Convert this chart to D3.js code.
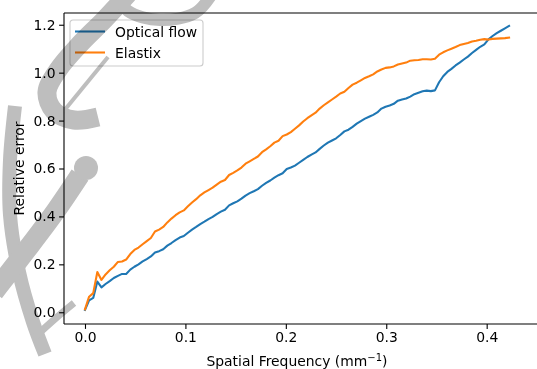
<!DOCTYPE html>
<html>
<head>
<meta charset="utf-8">
<script src="https://cdn.jsdelivr.net/npm/d3@7"></script>
<style>
  body { margin: 0; background: #fff; }
  svg { display: block; font-family: "DejaVu Sans", sans-serif; }
</style>
</head>
<body>
<div id="chart"></div>
<script>
// spatial frequency (mm^-1)
const freq = [0, .0041, .0082, .0123, .0164, .0205, .0246, .0287, .0328, .0369, .041, .0451, .0492, .0533, .0574, .0615, .0656, .0697, .0738, .0779,
  .082, .0861, .0902, .0943, .0984, .1025, .1066, .1107, .1148, .1189, .123, .1271, .1312, .1353, .1394, .1435, .1476, .1517, .1558, .1599,
  .164, .1681, .1722, .1763, .1804, .1845, .1886, .1927, .1968, .2009, .205, .2091, .2132, .2173, .2214, .2255, .2296, .2337, .2378, .2419,
  .246, .2501, .2542, .2583, .2624, .2665, .2706, .2747, .2788, .2829, .287, .2911, .2952, .2993, .3034, .3075, .3116, .3157, .3198, .3239,
  .328, .3321, .3362, .3403, .3444, .3485, .3526, .3567, .3608, .3649, .369, .3731, .3772, .3813, .3854, .3895, .3936, .3977, .4018, .4059,
  .41, .4141, .4182, .4223];

const opticalFlow = [0.010, 0.050, 0.060, 0.128, 0.104, 0.118, 0.130, 0.143, 0.152, 0.160, 0.160, 0.178, 0.190, 0.200, 0.212, 0.222, 0.233, 0.249, 0.255, 0.263,
  0.278, 0.289, 0.301, 0.312, 0.318, 0.332, 0.345, 0.356, 0.368, 0.378, 0.389, 0.398, 0.410, 0.420, 0.428, 0.446, 0.455, 0.463, 0.474, 0.487,
  0.497, 0.505, 0.514, 0.528, 0.540, 0.550, 0.562, 0.572, 0.580, 0.598, 0.604, 0.612, 0.624, 0.636, 0.648, 0.658, 0.667, 0.682, 0.696, 0.708,
  0.717, 0.726, 0.740, 0.755, 0.762, 0.774, 0.787, 0.798, 0.808, 0.816, 0.824, 0.834, 0.850, 0.858, 0.863, 0.870, 0.883, 0.888, 0.892, 0.900,
  0.910, 0.916, 0.922, 0.925, 0.923, 0.926, 0.960, 0.985, 1.003, 1.016, 1.030, 1.042, 1.055, 1.067, 1.082, 1.095, 1.108, 1.118, 1.139, 1.153,
  1.165, 1.175, 1.185, 1.195];

const elastix = [0.012, 0.065, 0.080, 0.168, 0.135, 0.158, 0.175, 0.190, 0.210, 0.212, 0.220, 0.243, 0.260, 0.270, 0.284, 0.297, 0.310, 0.337, 0.345, 0.356,
  0.375, 0.391, 0.405, 0.417, 0.425, 0.442, 0.458, 0.472, 0.488, 0.500, 0.510, 0.520, 0.533, 0.545, 0.552, 0.573, 0.582, 0.592, 0.604, 0.620,
  0.630, 0.640, 0.650, 0.668, 0.680, 0.693, 0.708, 0.716, 0.735, 0.742, 0.752, 0.766, 0.780, 0.796, 0.810, 0.822, 0.833, 0.850, 0.864, 0.876,
  0.888, 0.900, 0.913, 0.920, 0.936, 0.950, 0.958, 0.968, 0.978, 0.985, 0.993, 1.005, 1.013, 1.020, 1.022, 1.026, 1.034, 1.038, 1.042, 1.050,
  1.052, 1.053, 1.056, 1.056, 1.055, 1.058, 1.075, 1.085, 1.093, 1.100, 1.107, 1.115, 1.120, 1.124, 1.130, 1.133, 1.137, 1.140, 1.138, 1.141,
  1.142, 1.143, 1.144, 1.146];

const seriesNames = ["Optical flow", "Elastix"];
const seriesColors = ["#1f77b4", "#ff7f0e"];
const xTicks = [0.0, 0.1, 0.2, 0.3, 0.4];
const yTicks = [0.0, 0.2, 0.4, 0.6, 0.8, 1.0, 1.2];

const W = 537, H = 369;
const m = {l: 64, t: 13, r: 540, b: 324};
const fs = 13.9;

const svg = d3.select("#chart").append("svg").attr("width", W).attr("height", H);
svg.append("rect").attr("width", W).attr("height", H).attr("fill", "#fff");

const x = d3.scaleLinear().domain([-0.0209, 0.4531]).range([m.l, m.r]);
const y = d3.scaleLinear().domain([-0.049, 1.249]).range([m.b, m.t]);

// lines
const series = [opticalFlow, elastix];
const line = d3.line().x((d, i) => x(freq[i])).y(d => y(d));
series.forEach(function(s, k) {
  svg.append("path").datum(s)
    .attr("d", line)
    .attr("fill", "none")
    .attr("stroke", seriesColors[k])
    .attr("stroke-width", 2.08)
    .attr("stroke-linejoin", "round")
    .attr("stroke-linecap", "square");
});

// axes
const xAxis = svg.append("g").attr("transform", "translate(0," + m.b + ")")
  .call(d3.axisBottom(x).tickValues(xTicks).tickFormat(d3.format(".1f")).tickSizeOuter(0).tickSize(4.9).tickPadding(3.5));
const yAxis = svg.append("g").attr("transform", "translate(" + m.l + ",0)")
  .call(d3.axisLeft(y).tickValues(yTicks).tickFormat(d3.format(".1f")).tickSizeOuter(0).tickSize(4.9).tickPadding(3.5));
[xAxis, yAxis].forEach(function(a) {
  a.select(".domain").remove();
  a.selectAll(".tick line").attr("stroke", "#000").attr("stroke-width", 1.1);
  a.selectAll(".tick text").attr("fill", "#000").style("font-size", fs + "px").style("font-family", "DejaVu Sans");
});

// spines
const spine = svg.append("g").attr("stroke", "#000").attr("stroke-width", 1.1).attr("fill", "none");
spine.append("line").attr("x1", m.l).attr("x2", m.l).attr("y1", m.t).attr("y2", m.b);
spine.append("line").attr("x1", m.l).attr("x2", W).attr("y1", m.b).attr("y2", m.b);
spine.append("line").attr("x1", m.l).attr("x2", W).attr("y1", m.t).attr("y2", m.t);

// axis labels
const xl = svg.append("text").attr("x", 297).attr("y", 366).attr("text-anchor", "middle")
  .style("font-size", fs + "px").attr("fill", "#000");
xl.append("tspan").text("Spatial Frequency (mm");
xl.append("tspan").text("\u22121").attr("dy", -5).style("font-size", "10px");
xl.append("tspan").text(")").attr("dy", 5);

svg.append("text").attr("transform", "translate(23.5," + ((m.t + m.b) / 2) + ") rotate(-90)")
  .attr("text-anchor", "middle").style("font-size", fs + "px").attr("fill", "#000")
  .text("Relative error");

// legend
const leg = svg.append("g").attr("transform", "translate(70,20)");
leg.append("rect").attr("width", 133).attr("height", 46).attr("rx", 3)
  .attr("fill", "#fff").attr("fill-opacity", 0.8).attr("stroke", "#cccccc").attr("stroke-width", 1.1);
seriesNames.forEach(function(n, k) {
  const ly = 11.5 + k * 21;
  leg.append("line").attr("x1", 5).attr("x2", 35).attr("y1", ly).attr("y2", ly)
    .attr("stroke", seriesColors[k]).attr("stroke-width", 2.08);
  leg.append("text").attr("x", 45).attr("y", ly + 5).style("font-size", fs + "px").attr("fill", "#000").text(n);
});

// grey watermark, multiplied over the figure so dark text stays dark
const wm = svg.append("g").style("mix-blend-mode", "multiply")
  .attr("fill", "none").attr("stroke", "#bebebe").attr("stroke-linecap", "butt");
const curve = d3.line().curve(d3.curveCatmullRom);
// stem with foot
wm.append("path").attr("d", curve([[15, 106], [10, 160], [10, 215], [19, 272], [33, 322], [45, 354]])).attr("stroke-width", 14);
wm.append("path").attr("d", curve([[36, 336], [56, 318], [74, 303]])).attr("stroke-width", 7);
// arm with end
wm.append("path").attr("d", curve([[-6, 292], [25, 252], [55, 212], [80, 175]])).attr("stroke-width", 20);
wm.append("circle").attr("cx", 86).attr("cy", 168).attr("r", 12).attr("fill", "#bebebe").attr("stroke", "none");
// bowl
wm.append("path").attr("d", curve([[128, -6], [104, 20], [80, 44], [58, 70], [47, 92], [54, 111], [74, 120], [98, 117]])).attr("stroke-width", 19);
// crossbar
wm.append("path").attr("d", curve([[63, 112], [108, 57]])).attr("stroke-width", 4);
// upper loop
wm.append("path").attr("d", curve([[116, -6], [128, 11], [160, 20], [195, 13], [212, -6]])).attr("stroke-width", 12);
</script>
</body>
</html>
